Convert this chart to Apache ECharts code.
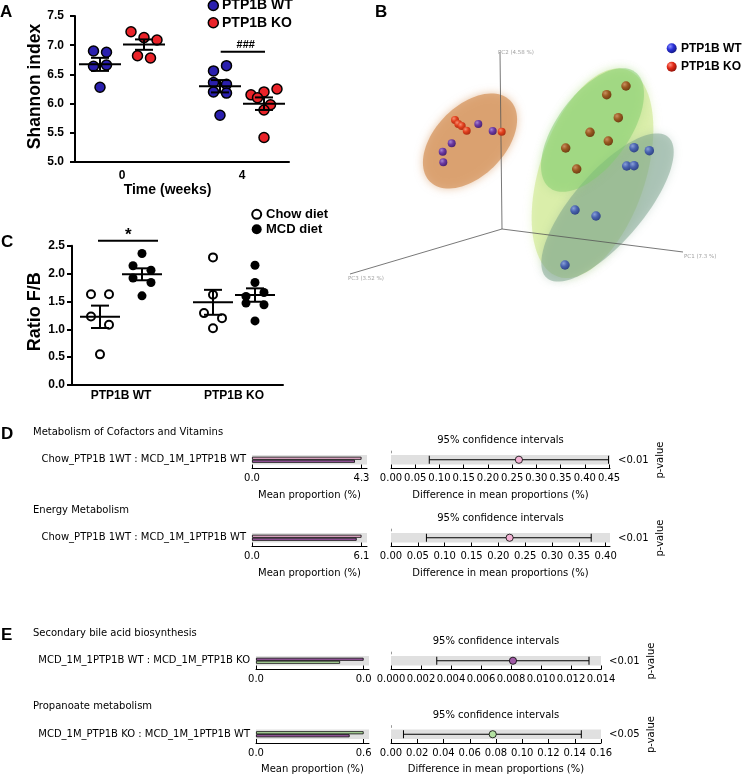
<!DOCTYPE html>
<html>
<head>
<meta charset="utf-8">
<title>PTP1B microbiota figure</title>
<script src="https://cdn.jsdelivr.net/npm/echarts@6/dist/echarts.min.js"></script>
<style>
html,body{margin:0;padding:0;background:#ffffff;}
#chart{width:743px;height:775px;}
</style>
</head>
<body>
<div id="chart"></div>
<script>
// ======================= DATA =======================
// Panel A – Shannon index
const weeks = [0, 4];
const shannonWT_wk0 = [6.90, 6.88, 6.64, 6.66, 6.28];
const shannonKO_wk0 = [7.23, 7.13, 7.09, 6.82, 6.78];
const shannonWT_wk4 = [6.56, 6.65, 6.36, 6.33, 6.20, 6.18, 5.80];
const shannonKO_wk4 = [6.15, 6.20, 6.25, 6.10, 5.98, 5.89, 5.42];
const shannonTicks = [5.0, 5.5, 6.0, 6.5, 7.0, 7.5];
const genotypeNames = ['PTP1B WT', 'PTP1B KO'];

// Panel C – Firmicutes / Bacteroidetes ratio
const genotypes = ['PTP1B WT', 'PTP1B KO'];
const dietNames = ['Chow diet', 'MCD diet'];
const ratioChowWT = [1.63, 1.63, 1.23, 1.08, 0.55];
const ratioMcdWT  = [2.36, 2.14, 2.06, 1.92, 1.84, 1.60];
const ratioChowKO = [2.29, 1.62, 1.29, 1.20, 1.02];
const ratioMcdKO  = [2.15, 1.84, 1.59, 1.66, 1.47, 1.44, 1.15];
const ratioTicks = [0.0, 0.5, 1.0, 1.5, 2.0, 2.5];

// Panel B – PCoA (projected coordinates of the 3-D view)
const pcaAxisNames = ['PC1 (7.3 %)', 'PC2 (4.58 %)', 'PC3 (3.52 %)'];
const pcaOrigin = [172, 61];
const pcaAxisEnds = [[353, 38], [170, 238], [20, 16]];
const pcaChowKO = [[125, 170], [128.3, 166], [131.7, 164], [136.7, 159.3], [171.7, 158.3]];
const pcaChowWT = [[148.3, 166], [162.7, 159], [121.7, 146.7], [112.7, 138.3], [113.3, 127.7]];
const pcaMcdKO  = [[296, 204], [276.7, 195.3], [288.3, 172.3], [260, 157.7], [278.3, 149], [235.7, 142], [246.7, 121]];
const pcaMcdWT  = [[304, 142.3], [319.3, 139.3], [296.7, 124], [304, 124.3], [245, 80], [266, 74], [235, 25]];
const ellipseCenter = [[262.5, 116.7], [277.5, 82.5], [262.5, 160], [140, 149]];
const ellipseRadii  = [[109, 53], [93, 35], [72, 36], [57, 35]];
const ellipseAngle  = [71.7, 49.3, 53.8, 45.6];

// Panels D/E – STAMP extended error bars
const sectionLetters = ['D', null, 'E', null];
const pathways = ['Metabolism of Cofactors and Vitamins', 'Energy Metabolism',
                  'Secondary bile acid biosynthesis', 'Propanoate metabolism'];
const comparisons = ['Chow_PTP1B 1WT : MCD_1M_1PTP1B WT', 'Chow_PTP1B 1WT : MCD_1M_1PTP1B WT',
                     'MCD_1M_1PTP1B WT : MCD_1M_PTP1B KO', 'MCD_1M_PTP1B KO : MCD_1M_1PTP1B WT'];
const meanProp1 = [4.30, 6.10, 0.032, 0.60];
const meanProp2 = [4.04, 5.83, 0.025, 0.522];
const diffMeans = [0.264, 0.221, 0.00813, 0.0775];
const ciLower   = [0.079, 0.066, 0.00305, 0.0095];
const ciUpper   = [0.449, 0.373, 0.0132, 0.145];
const pValueText = ['<0.01', '<0.01', '<0.01', '<0.05'];
const ciTickLabels = [
  ['0.00','0.05','0.10','0.15','0.20','0.25','0.30','0.35','0.40','0.45'],
  ['0.00','0.05','0.10','0.15','0.20','0.25','0.30','0.35','0.40'],
  ['0.000','0.002','0.004','0.006','0.008','0.010','0.012','0.014'],
  ['0.00','0.02','0.04','0.06','0.08','0.10','0.12','0.14','0.16']
];
const ciAxisMax = [0.452, 0.408, 0.014, 0.16];
const showAxisTitles = [true, true, false, true];

// ======================= STYLE / LAYOUT =======================
const FB = '"Liberation Sans", Arial, sans-serif';
const FD = '"DejaVu Sans", sans-serif';
const BLUE = '#2a1fae', RED = '#ea2329';
const PINK = '#f4b4d6', PURPLE = '#a05aa6', GREEN = '#b4e2a2';
const group1Color = [PINK, PINK, PURPLE, GREEN];
const group2Color = [PURPLE, PURPLE, GREEN, PURPLE];
const rowTop = [455, 533, 656, 729.5];
const barLeft = [252, 252, 256, 256];
const barW = [115, 115, 113, 113];
const ciLeft = 391;
const ciW = [219, 219, 210, 210];
const ellipseColors = ['rgba(205,232,140,0.6)', 'rgba(120,160,138,0.5)', 'rgba(128,204,108,0.5)', 'rgba(214,150,95,0.75)'];

// ======================= HELPERS =======================
function mean(a) { return a.reduce((s, v) => s + v, 0) / a.length; }
function sem(a) {
  const m = mean(a);
  const v = a.reduce((s, x) => s + (x - m) * (x - m), 0) / (a.length - 1);
  return Math.sqrt(v) / Math.sqrt(a.length);
}
// Prism-like column scatter: points whose pixel height is within `thresh` share a row
function swarmOffsets(values, pxPerUnit, spacing, thresh) {
  const order = values.map((v, i) => i).sort((a, b) => values[b] - values[a]);
  const bins = [];
  let cur = null;
  for (const i of order) {
    if (cur && (values[cur.first] - values[i]) * pxPerUnit < thresh) cur.members.push(i);
    else { cur = { first: i, members: [i] }; bins.push(cur); }
  }
  const off = new Array(values.length).fill(0);
  bins.forEach(b => {
    b.members.sort((x, y) => x - y);
    const n = b.members.length;
    b.members.forEach((idx, k) => { off[idx] = (k - (n - 1) / 2) * spacing; });
  });
  return off;
}
function txt(x, y, text, font, align, va, rot, color) {
  return {
    type: 'text', x: x, y: y, rotation: rot || 0, silent: true, z: 100,
    style: {
      text: text, font: font, fill: color || '#000',
      textAlign: align || 'left', textVerticalAlign: va || 'middle',
      align: align || 'left', verticalAlign: va || 'middle'
    }
  };
}
function gline(x1, y1, x2, y2, w, color) {
  return { type: 'line', silent: true, z: 100, shape: { x1, y1, x2, y2 }, style: { stroke: color || '#000', lineWidth: w || 1 } };
}
function gcircle(cx, cy, r, fill, stroke, lw) {
  return { type: 'circle', silent: true, z: 100, shape: { cx, cy, r }, style: { fill: fill, stroke: stroke || 'none', lineWidth: lw || 0 } };
}
function sphere(base, light, dark) {
  return { type: 'radial', x: 0.35, y: 0.32, r: 0.75,
    colorStops: [{ offset: 0, color: light }, { offset: 0.45, color: base }, { offset: 1, color: dark }] };
}
function meanSemRender(offPx, halfW, capW) {
  return function (params, api) {
    const x = api.value(0), m = api.value(1), s = api.value(2);
    const c = api.coord([x, m]), t = api.coord([x, m + s]), b = api.coord([x, m - s]);
    const cx = c[0] + offPx;
    const st = { stroke: '#000', lineWidth: 2 };
    return { type: 'group', children: [
      { type: 'line', shape: { x1: cx - halfW, y1: c[1], x2: cx + halfW, y2: c[1] }, style: st },
      { type: 'line', shape: { x1: cx, y1: t[1], x2: cx, y2: b[1] }, style: st },
      { type: 'line', shape: { x1: cx - capW, y1: t[1], x2: cx + capW, y2: t[1] }, style: st },
      { type: 'line', shape: { x1: cx - capW, y1: b[1], x2: cx + capW, y2: b[1] }, style: st }
    ] };
  };
}

const grids = [], xAxes = [], yAxes = [], series = [], gfx = [];
function addGrid(grid, xa, ya) {
  const gi = grids.length;
  grids.push(grid); xa.gridIndex = gi; ya.gridIndex = gi;
  xAxes.push(xa); yAxes.push(ya);
  return gi;
}
const boldLabel = (size, margin) => ({ color: '#000', fontFamily: FB, fontWeight: 'bold', fontSize: size, margin: margin });

// ======================= PANEL A =======================
const A_H = 146, A_MIN = shannonTicks[0], A_MAX = shannonTicks[shannonTicks.length - 1];
const gA = addGrid({ left: 75, top: 16, width: 214, height: A_H },
  { type: 'value', min: -1.5667, max: 5.5667, splitLine: { show: false },
    axisLine: { show: true, onZero: false, lineStyle: { color: '#000', width: 2 } },
    axisTick: { show: false },
    axisLabel: Object.assign({ customValues: weeks, formatter: v => String(v) }, boldLabel(12, 8)) },
  { type: 'value', min: A_MIN, max: A_MAX, interval: shannonTicks[1] - shannonTicks[0], splitLine: { show: false },
    axisLine: { show: true, onZero: false, lineStyle: { color: '#000', width: 2 } },
    axisTick: { show: true, length: 5, lineStyle: { color: '#000', width: 2 } },
    axisLabel: Object.assign({ formatter: v => v.toFixed(1) }, boldLabel(12, 11)) });
const aPx = A_H / (A_MAX - A_MIN);
const aGroups = [
  { g: 0, week: weeks[0], vals: shannonWT_wk0, side: -1 },
  { g: 0, week: weeks[1], vals: shannonWT_wk4, side: -1 },
  { g: 1, week: weeks[0], vals: shannonKO_wk0, side: 1 },
  { g: 1, week: weeks[1], vals: shannonKO_wk4, side: 1 }
];
[0, 1].forEach(g => {
  const data = [];
  const stats = [];
  aGroups.filter(o => o.g === g).forEach(o => {
    const off = swarmOffsets(o.vals, aPx, 13, 8.5);
    o.vals.forEach((v, i) => data.push({ value: [o.week, v], symbolOffset: [o.side * 22 + off[i], 0] }));
    stats.push([o.week, mean(o.vals), sem(o.vals)]);
  });
  series.push({ type: 'scatter', name: genotypeNames[g], xAxisIndex: gA, yAxisIndex: gA, symbolSize: 10, z: 3,
    itemStyle: { color: g === 0 ? BLUE : RED, borderColor: '#000', borderWidth: 1.5, opacity: 1 }, data: data });
  series.push({ type: 'custom', xAxisIndex: gA, yAxisIndex: gA, z: 5, silent: true,
    renderItem: meanSemRender(g === 0 ? -22 : 22, 21, 9), encode: { x: 0, y: 1 }, data: stats });
});

// ======================= PANEL C =======================
const C_H = 139.3, C_MIN = ratioTicks[0], C_MAX = ratioTicks[ratioTicks.length - 1];
const gC = addGrid({ left: 72, top: 245.7, width: 211, height: C_H },
  { type: 'value', min: -0.4336, max: 1.4336, splitLine: { show: false },
    axisLine: { show: true, onZero: false, lineStyle: { color: '#000', width: 2 } },
    axisTick: { show: false },
    axisLabel: Object.assign({ customValues: [0, 1], formatter: v => genotypes[Math.round(v)] || '' }, boldLabel(12, 5)) },
  { type: 'value', min: C_MIN, max: C_MAX, interval: ratioTicks[1] - ratioTicks[0], splitLine: { show: false },
    axisLine: { show: true, onZero: false, lineStyle: { color: '#000', width: 2 } },
    axisTick: { show: true, length: 5, lineStyle: { color: '#000', width: 2 } },
    axisLabel: Object.assign({ formatter: v => v.toFixed(1) }, boldLabel(12, 7)) });
const cPx = C_H / (C_MAX - C_MIN);
const cGroups = [
  { d: 0, x: 0, vals: ratioChowWT }, { d: 0, x: 1, vals: ratioChowKO },
  { d: 1, x: 0, vals: ratioMcdWT }, { d: 1, x: 1, vals: ratioMcdKO }
];
[0, 1].forEach(d => {
  const data = [], stats = [];
  const side = d === 0 ? -21 : 21;
  cGroups.filter(o => o.d === d).forEach(o => {
    const off = swarmOffsets(o.vals, cPx, 18, 9.5);
    o.vals.forEach((v, i) => data.push({ value: [o.x, v], symbolOffset: [side + off[i], 0] }));
    stats.push([o.x, mean(o.vals), sem(o.vals)]);
  });
  series.push({ type: 'scatter', name: dietNames[d], xAxisIndex: gC, yAxisIndex: gC, symbolSize: d === 0 ? 8 : 9, z: 3,
    itemStyle: d === 0 ? { color: '#fff', borderColor: '#000', borderWidth: 2, opacity: 1 } : { color: '#000', opacity: 1 },
    data: data });
  series.push({ type: 'custom', xAxisIndex: gC, yAxisIndex: gC, z: 5, silent: true,
    renderItem: meanSemRender(side, 20, 9), encode: { x: 0, y: 1 }, data: stats });
});

// ======================= PANEL B =======================
const gB = addGrid({ left: 330, top: 40, width: 360, height: 250 },
  { type: 'value', min: 0, max: 360, show: false, splitLine: { show: false } },
  { type: 'value', min: 0, max: 250, show: false, splitLine: { show: false } });
series.push({
  type: 'custom', xAxisIndex: gB, yAxisIndex: gB, z: 1, silent: true,
  encode: { x: 0, y: 1 },
  data: ellipseCenter.map((c, i) => [c[0], c[1], ellipseRadii[i][0], ellipseRadii[i][1], ellipseAngle[i]]),
  renderItem: function (params, api) {
    const i = params.dataIndex;
    const c = api.coord([api.value(0), api.value(1)]);
    const kx = api.size([1, 0])[0], ky = api.size([0, 1])[1];
    const rx = api.value(2), ry = api.value(3), a = api.value(4) * Math.PI / 180;
    const pts = [];
    for (let k = 0; k < 90; k++) {
      const t = 2 * Math.PI * k / 90;
      const lx = rx * Math.cos(t), ly = ry * Math.sin(t);
      const dx = lx * Math.cos(a) - ly * Math.sin(a);
      const dy = lx * Math.sin(a) + ly * Math.cos(a);
      pts.push([c[0] + dx * kx, c[1] - dy * ky]);
    }
    return { type: 'polygon', shape: { points: pts },
      style: { fill: ellipseColors[i], shadowBlur: 9, shadowColor: ellipseColors[i] } };
  }
});
pcaAxisEnds.forEach((e, i) => {
  series.push({ type: 'line', xAxisIndex: gB, yAxisIndex: gB, z: 2, silent: true, showSymbol: false, symbol: 'none',
    lineStyle: { color: '#555', width: 0.8 }, data: [pcaOrigin, e] });
});
const pcLabelPos = [[1, 5], [-2, 1], [-2, 5]];
series.push({ type: 'scatter', xAxisIndex: gB, yAxisIndex: gB, z: 2, silent: true, symbolSize: 0,
  data: pcaAxisEnds.map((e, i) => ({ value: e, label: { position: pcLabelPos[i] } })),
  label: { show: true, formatter: p => pcaAxisNames[p.dataIndex], fontSize: 5.5, fontFamily: FD, color: '#888',
    align: 'left', verticalAlign: 'middle' } });
const pcaGroups = [
  { name: 'Chow KO', pts: pcaChowKO, size: 8, fill: sphere('#e2401e', '#f59070', '#a82a10') },
  { name: 'Chow WT', pts: pcaChowWT, size: 8, fill: sphere('#6d3aa2', '#a585d0', '#45206e') },
  { name: 'MCD KO', pts: pcaMcdKO, size: 9.5, fill: sphere('#9a5a22', '#c89060', '#6a3a10') },
  { name: 'MCD WT', pts: pcaMcdWT, size: 9.5, fill: sphere('#4a64b0', '#8aa0d8', '#2c3f80') }
];
pcaGroups.forEach(gp => {
  series.push({ type: 'scatter', name: gp.name, xAxisIndex: gB, yAxisIndex: gB, z: 3, symbolSize: gp.size,
    itemStyle: { color: gp.fill, opacity: 1 }, data: gp.pts });
});

// ======================= PANELS D / E =======================
const FDE = '10px "DejaVu Sans", sans-serif';
for (let i = 0; i < pathways.length; i++) {
  const t = rowTop[i];
  const barMax = Math.max(meanProp1[i], meanProp2[i]);
  const gBar = addGrid({ left: barLeft[i], top: t, width: barW[i], height: 9.5, show: true, backgroundColor: '#e0e0e0', borderWidth: 0 },
    { type: 'value', min: 0, max: barMax * 1.05, offset: 4, splitLine: { show: false },
      axisLine: { show: true, onZero: false, lineStyle: { color: '#000', width: 1 } },
      axisTick: { show: true, inside: true, length: 4, customValues: [0, barMax], lineStyle: { color: '#000', width: 1 } },
      axisLabel: { customValues: [0, barMax], formatter: v => v.toFixed(1), fontSize: 10, fontFamily: FD, color: '#000', margin: 5 } },
    { type: 'category', data: ['r'], inverse: true, show: false });
  series.push({ type: 'bar', xAxisIndex: gBar, yAxisIndex: gBar, barWidth: 3, barGap: '0%', silent: true,
    itemStyle: { color: group1Color[i], borderColor: '#000', borderWidth: 0.8 }, data: [meanProp1[i]] });
  series.push({ type: 'bar', xAxisIndex: gBar, yAxisIndex: gBar, barWidth: 3, barGap: '0%', silent: true,
    itemStyle: { color: group2Color[i], borderColor: '#000', borderWidth: 0.8 }, data: [meanProp2[i]] });

  const ticks = ciTickLabels[i].map(s => parseFloat(s));
  const dec = ciTickLabels[i][0].split('.')[1].length;
  const gCI = addGrid({ left: ciLeft, top: t, width: ciW[i], height: 9.5, show: true, backgroundColor: '#e0e0e0', borderWidth: 0 },
    { type: 'value', min: 0, max: ciAxisMax[i], offset: 4, splitLine: { show: false },
      axisLine: { show: true, onZero: false, lineStyle: { color: '#000', width: 1 } },
      axisTick: { show: true, inside: true, length: 4, customValues: ticks, lineStyle: { color: '#000', width: 1 } },
      axisLabel: { customValues: ticks, formatter: v => v.toFixed(dec), fontSize: 10, fontFamily: FD, color: '#000', margin: 5 } },
    { type: 'category', data: ['r'], show: false });
  const pointColor = group1Color[i];
  series.push({ type: 'custom', xAxisIndex: gCI, yAxisIndex: gCI, z: 5, silent: true,
    encode: { x: [0, 1, 2], y: 3 },
    data: [[ciLower[i], ciUpper[i], diffMeans[i], 0]],
    renderItem: function (params, api) {
      const lo = api.coord([api.value(0), 0]), hi = api.coord([api.value(1), 0]), m = api.coord([api.value(2), 0]);
      const y = lo[1];
      const st = { stroke: '#000', lineWidth: 1 };
      return { type: 'group', children: [
        { type: 'line', shape: { x1: lo[0], y1: y, x2: hi[0], y2: y }, style: st },
        { type: 'line', shape: { x1: lo[0], y1: y - 4, x2: lo[0], y2: y + 4 }, style: st },
        { type: 'line', shape: { x1: hi[0], y1: y - 4, x2: hi[0], y2: y + 4 }, style: st },
        { type: 'circle', shape: { cx: m[0], cy: y, r: 3.6 }, style: { fill: pointColor, stroke: '#000', lineWidth: 0.8 } }
      ] };
    } });

  const ciRight = ciLeft + ciW[i];
  if (sectionLetters[i]) gfx.push(txt(1, t - 21, sectionLetters[i], 'bold 17px ' + FB, 'left', 'middle'));
  gfx.push(txt(33, t - 22.7, pathways[i], FDE, 'left', 'middle'));
  gfx.push(txt(ciLeft + ciW[i] / 2, t - 14.3, '95% confidence intervals', FDE, 'center', 'middle'));
  gfx.push(txt(barLeft[i] - 6, t + 4.8, comparisons[i], FDE, 'right', 'middle'));
  gfx.push(txt(ciRight + 8, t + 5, pValueText[i], FDE, 'left', 'middle'));
  gfx.push(txt(ciRight + 50, t + 5, 'p-value', FDE, 'center', 'middle', Math.PI / 2));
  gfx.push(gline(ciLeft + 0.5, t - 4.3, ciLeft + 0.5, t - 1.7, 1, '#999'));
  if (showAxisTitles[i]) {
    gfx.push(txt(barLeft[i] + barW[i] / 2, t + 40, 'Mean proportion (%)', FDE, 'center', 'middle'));
    gfx.push(txt(ciLeft + ciW[i] / 2, t + 40, 'Difference in mean proportions (%)', FDE, 'center', 'middle'));
  }
}

// ======================= TEXT, LEGENDS, ANNOTATIONS =======================
// panel letters
gfx.push(txt(0, 12, 'A', 'bold 17px ' + FB));
gfx.push(txt(375, 12, 'B', 'bold 17px ' + FB));
gfx.push(txt(1, 242, 'C', 'bold 17px ' + FB));
// axis titles
gfx.push(txt(35, 86.5, 'Shannon index', 'bold 17.5px ' + FB, 'center', 'middle', Math.PI / 2));
gfx.push(txt(167.5, 190, 'Time (weeks)', 'bold 14px ' + FB, 'center', 'middle'));
gfx.push(txt(35, 311.7, 'Ratio F/B', 'bold 18px ' + FB, 'center', 'middle', Math.PI / 2));
// legend A
gfx.push(gcircle(213.3, 5.5, 5, BLUE, '#000', 1.5));
gfx.push(txt(222, 5.5, genotypeNames[0], 'bold 14px ' + FB));
gfx.push(gcircle(213.3, 22.7, 5, RED, '#000', 1.5));
gfx.push(txt(222, 22.7, genotypeNames[1], 'bold 14px ' + FB));
// significance A
gfx.push(txt(245.8, 44.5, '###', 'bold 11px ' + FB, 'center', 'middle'));
gfx.push(gline(220.7, 51.7, 265, 51.7, 2));
// legend C
gfx.push(gcircle(256.7, 214.3, 4.5, '#fff', '#000', 2));
gfx.push(txt(266, 214.3, dietNames[0], 'bold 13px ' + FB));
gfx.push(gcircle(256.7, 229.3, 5, '#000', '#000', 0));
gfx.push(txt(266, 229.3, dietNames[1], 'bold 13px ' + FB));
// significance C
gfx.push(txt(128.3, 235.5, '*', 'bold 17px ' + FB, 'center', 'middle'));
gfx.push(gline(98, 240.7, 158, 240.7, 2));
// legend B
gfx.push(gcircle(671.7, 48.3, 5, sphere('#2a30d8', '#8a90ff', '#10157a')));
gfx.push(txt(681, 48.3, genotypeNames[0], 'bold 12px ' + FB));
gfx.push(gcircle(671.7, 66.7, 5, sphere('#e22a18', '#ff9080', '#8a1008')));
gfx.push(txt(681, 66.7, genotypeNames[1], 'bold 12px ' + FB));

// ======================= CHART =======================
const chart = echarts.init(document.getElementById('chart'), null, { renderer: 'canvas' });
chart.setOption({
  backgroundColor: '#ffffff',
  animation: false,
  grid: grids,
  xAxis: xAxes,
  yAxis: yAxes,
  series: series,
  graphic: { elements: gfx }
});
</script>
</body>
</html>
